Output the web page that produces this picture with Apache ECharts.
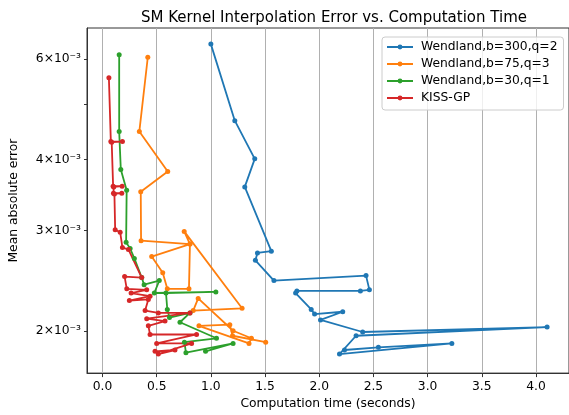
<!DOCTYPE html>
<html><head><meta charset="utf-8">
<script src="https://cdn.jsdelivr.net/npm/echarts@6/dist/echarts.min.js"></script>
<style>html,body{margin:0;padding:0;background:#fff}#c{width:569px;height:415px}</style>
</head><body><div id="c"></div>
<script>
const seriesNames = ['Wendland,b=300,q=2', 'Wendland,b=75,q=3', 'Wendland,b=30,q=1', 'KISS-GP'];
const colors = ['#1f77b4', '#ff7f0e', '#2ca02c', '#d62728'];

const blueX = [1.000,1.221,1.405,1.313,1.558,1.430,1.411,1.582,2.432,2.463,2.380,1.794,1.782,1.926,1.957,2.217,2.012,2.401,4.103,2.340,2.187,3.224,2.546,2.233];
const blueY = [0.00638,0.00468,0.00401,0.00358,0.00276,0.00274,0.00266,0.00245,0.00250,0.00236,0.00235,0.00235,0.00233,0.00218,0.00214,0.00216,0.00209,0.00199,0.00203,0.00196,0.00182,0.00190,0.00187,0.00185];

const orangeX = [0.418,0.340,0.602,0.353,0.356,0.807,0.454,0.556,0.598,0.798,0.807,0.754,1.288,0.837,0.883,1.205,1.374,1.352,0.890,1.175,1.200,1.506];
const orangeY = [0.00605,0.00448,0.00381,0.00351,0.00288,0.00284,0.00270,0.00253,0.00237,0.00237,0.00284,0.00299,0.00219,0.00217,0.00228,0.00200,0.00194,0.00190,0.00204,0.00205,0.00196,0.00191];

const greenX = [0.154,0.154,0.169,0.223,0.218,0.255,0.294,0.362,0.384,0.524,0.478,1.046,0.586,0.598,0.618,0.807,0.715,1.052,0.756,0.770,1.205,0.951];
const greenY = [0.00611,0.00448,0.00384,0.00353,0.00286,0.00279,0.00268,0.00248,0.00241,0.00245,0.00233,0.00234,0.00233,0.00218,0.00211,0.00215,0.00207,0.00194,0.00191,0.00183,0.00190,0.00184];

const redX = [0.059,0.077,0.184,0.085,0.098,0.181,0.104,0.101,0.178,0.110,0.117,0.163,0.184,0.239,0.362,0.204,0.224,0.408,0.264,0.439,0.248,0.423,0.393,0.515,0.807,0.408,0.577,0.423,0.439,0.868,0.500,0.822,0.515,0.669,0.485];
const redY = [0.00557,0.00430,0.00430,0.00429,0.00359,0.00359,0.00358,0.00349,0.00349,0.00348,0.00301,0.00298,0.00280,0.00278,0.00248,0.00249,0.00237,0.00236,0.00233,0.00230,0.00226,0.00227,0.00217,0.00215,0.00215,0.00210,0.00208,0.00204,0.00197,0.00197,0.00190,0.00190,0.00182,0.00185,0.00184];

const xTicks = [0, 0.5, 1.0, 1.5, 2.0, 2.5, 3.0, 3.5, 4.0];
const yTickMarks = [0.002, 0.003, 0.004, 0.005, 0.006];
const yTickLabels = [0.002, 0.003, 0.004, 0.006];

const xs = [blueX, orangeX, greenX, redX];
const ys = [blueY, orangeY, greenY, redY];

const FONT = 'DejaVu Sans';
const FS = 12.3;
const chart = echarts.init(document.getElementById('c'), null, {renderer: 'canvas'});
chart.setOption({
  animation: false,
  backgroundColor: '#fff',
  title: {
    text: 'SM Kernel Interpolation Error vs. Computation Time',
    left: 136, top: 6,
    textStyle: {fontFamily: FONT, fontSize: 15, fontWeight: 'normal', color: '#000'}
  },
  legend: {
    orient: 'vertical', left: 382, top: 37,
    itemWidth: 26, itemHeight: 6, itemGap: 5,
    padding: [4, 6, 6, 4],
    borderColor: '#cccccc', borderWidth: 1, borderRadius: 3,
    backgroundColor: 'rgba(255,255,255,0.8)',
    textStyle: {fontFamily: FONT, fontSize: FS, color: '#000', padding: [0, 0, 0, 3]},
    data: seriesNames
  },
  grid: {left: 87, top: 28, width: 483, height: 346.5, show: true, borderColor: '#333', borderWidth: 1, containLabel: false},
  xAxis: {
    type: 'value', min: -0.143, max: 4.305,
    name: 'Computation time (seconds)', nameLocation: 'middle', nameGap: 23,
    nameTextStyle: {fontFamily: FONT, fontSize: FS, color: '#000'},
    axisLine: {show: true, onZero: false, lineStyle: {color: '#333', width: 1}},
    axisTick: {show: true, length: 4, customValues: xTicks, lineStyle: {color: '#333'}},
    axisLabel: {customValues: xTicks, formatter: v => v.toFixed(1), fontFamily: FONT, fontSize: FS, color: '#000', margin: 8},
    splitLine: {show: true, lineStyle: {color: '#b0b0b0', width: 1}}
  },
  yAxis: {
    type: 'log', logBase: 10, min: 0.001685, max: 0.00681,
    name: 'Mean absolute error', nameLocation: 'middle', nameGap: 67, nameRotate: 90,
    nameTextStyle: {fontFamily: FONT, fontSize: FS, color: '#000'},
    axisLine: {show: true, onZero: false, lineStyle: {color: '#333', width: 1}},
    axisTick: {show: true, length: 3, customValues: yTickMarks, lineStyle: {color: '#333'}},
    axisLabel: {customValues: yTickLabels, formatter: v => Math.round(v * 1000) + '×10⁻³', fontFamily: FONT, fontSize: FS, color: '#000', margin: 6},
    splitLine: {show: false},
    minorTick: {show: false}
  },
  series: seriesNames.map((name, i) => ({
    name, type: 'line',
    data: xs[i].map((x, j) => [x, ys[i][j]]),
    symbol: 'circle', symbolSize: 5, showSymbol: true,
    itemStyle: {color: colors[i]},
    lineStyle: {color: colors[i], width: 1.8},
    clip: true
  }))
});
</script></body></html>
